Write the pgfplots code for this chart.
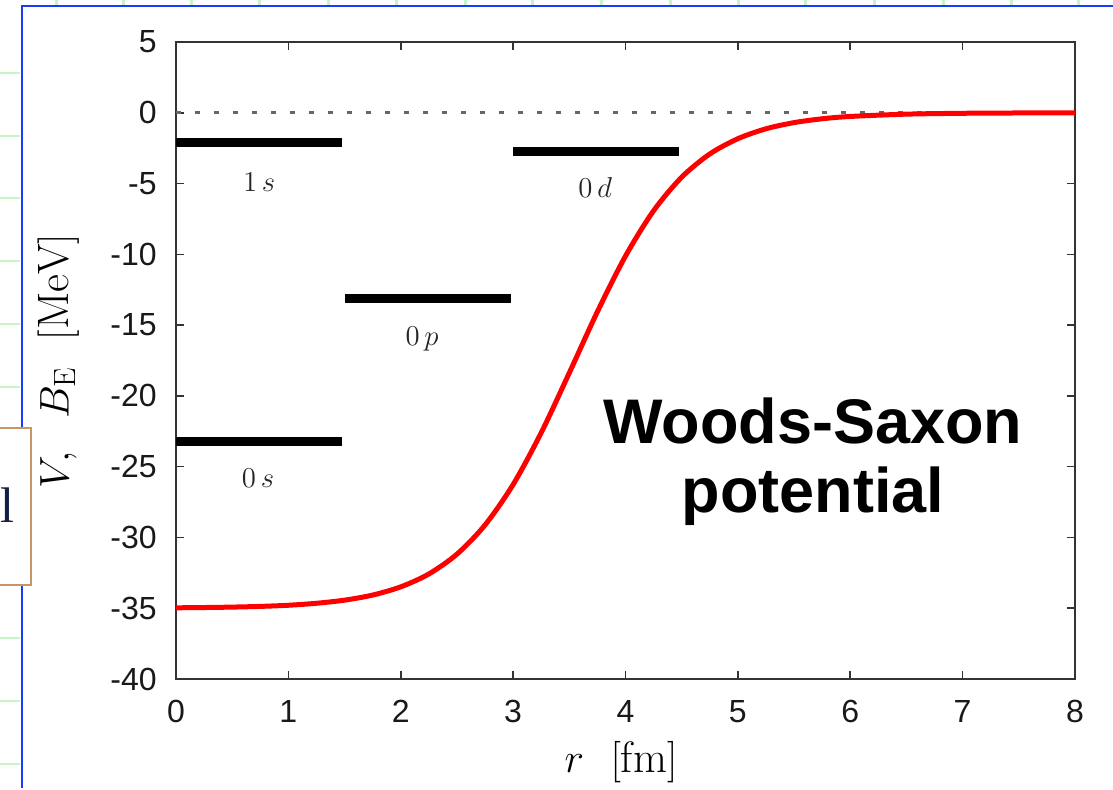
\documentclass[border=0pt]{standalone}
\usepackage{fontspec}
\usepackage{pgfplots}
\pgfplotsset{compat=1.18}
\newfontfamily\helv{Liberation Sans}
\newfontfamily\serifl{Liberation Serif}
\definecolor{slideblue}{RGB}{25,60,250}
\definecolor{lgreen}{RGB}{200,245,200}
\definecolor{boxtan}{RGB}{200,150,100}
\definecolor{navy}{RGB}{20,30,70}

\begin{document}
\begin{tikzpicture}
% slide frame around the plot (pixel-like units, origin top left)
\begin{scope}[xshift=-88pt, yshift=339.5pt, x=0.5pt, y=-0.5pt]
  \useasboundingbox (0,0) rectangle (1113,788);
  \fill[white] (0,0) rectangle (1113,788);
  \foreach \x in {57,124,191,259,328,396,465,532,601,670,738,805,874,943,1011,1078}
    \draw[lgreen, line width=1.5pt] (\x,0) -- (\x,5);
  \foreach \y in {73,136,198,261,324,387,638,701,764}
    \draw[lgreen, line width=1pt] (0,\y) -- (20,\y);
  \draw[slideblue, line width=1.25pt] (1113,6) -- (22,6) -- (22,428);
  \draw[slideblue, line width=1.25pt] (22,585) -- (22,788);
  \fill[white] (0,428) rectangle (31,585);
  \draw[boxtan, line width=0.8pt] (0,428) -- (31,428) -- (31,585) -- (0,585);
  \node[anchor=base west, inner sep=0pt, text=navy, font=\serifl\fontsize{25}{25}\selectfont] at (0,522) {l};
\end{scope}

\begin{axis}[
  width=449.5pt, height=318.5pt, scale only axis,
  xmin=0, xmax=8, ymin=-40, ymax=5,
  xtick={0,1,2,3,4,5,6,7,8},
  xticklabels={0,1,2,3,4,5,6,7,8},
  ytick={-40,-35,-30,-25,-20,-15,-10,-5,0,5},
  yticklabels={-40,-35,-30,-25,-20,-15,-10,-5,0,5},
  tick align=inside, major tick length=4pt,
  axis line style={black!80, line width=0.9pt},
  every tick/.style={black!80, line width=0.8pt},
  ticklabel style={font=\helv\fontsize{16}{16}\selectfont, text=black!90},
  yticklabel style={anchor=east, inner sep=0pt, xshift=-9.5pt},
  xticklabel style={anchor=north, inner sep=0pt, yshift=-10.5pt},
  xlabel={$r\ \ [\mathrm{fm}]$},
  ylabel={$V\!,\ \ B_{\mathrm{E}}\ \ [\mathrm{MeV}]$},
  label style={font=\fontsize{22}{22}\selectfont},
  xlabel style={at={(axis description cs:0.495,-0.130)}, anchor=center},
  ylabel style={at={(axis description cs:-0.131,0.499)}, anchor=center},
]
% zero energy reference
\addplot[black!60, line width=1.4pt, dash pattern=on 2.5pt off 7pt] coordinates {(0,0) (8,0)};

% bound-state levels
\addplot[black, line width=4.5pt] coordinates {(0,-2.1) (1.48,-2.1)};
\addplot[black, line width=4.5pt] coordinates {(1.5,-13.1) (2.98,-13.1)};
\addplot[black, line width=4.5pt] coordinates {(3.0,-2.7) (4.48,-2.7)};
\addplot[black, line width=4.5pt] coordinates {(0,-23.2) (1.48,-23.2)};

\node[text=black!85, font=\fontsize{15.5}{15.5}\selectfont] at (axis cs:0.74,-4.87) {$1\,s$};
\node[text=black!85, font=\fontsize{15.5}{15.5}\selectfont] at (axis cs:2.19,-16.0) {$0\,p$};
\node[text=black!85, font=\fontsize{15.5}{15.5}\selectfont] at (axis cs:3.73,-5.3) {$0\,d$};
\node[text=black!85, font=\fontsize{15.5}{15.5}\selectfont] at (axis cs:0.73,-25.8) {$0\,s$};

% Woods-Saxon well
\addplot[red, line width=2.5pt, smooth] coordinates {
  (0,-34.97) (0.25,-34.95) (0.5,-34.92) (0.75,-34.87) (1.0,-34.79)
  (1.25,-34.65) (1.5,-34.43) (1.75,-34.07) (2.0,-33.49) (2.25,-32.58)
  (2.5,-31.18) (2.75,-29.12) (3.0,-26.26) (3.25,-22.60) (3.5,-18.37)
  (3.75,-14.05) (4.0,-10.12) (4.25,-6.92) (4.5,-4.55) (4.75,-2.91)
  (5.0,-1.83) (5.25,-1.13) (5.5,-0.694) (5.75,-0.424) (6.0,-0.259)
  (6.5,-0.096) (7.0,-0.035) (7.5,-0.013) (8.0,-0.005)
};
\end{axis}

\begin{scope}[xshift=-88pt, yshift=339.5pt, x=0.5pt, y=-0.5pt]
  \node[anchor=base, inner sep=0pt, font=\helv\bfseries\fontsize{31.5}{31.5}\selectfont] at (813,443) {Woods-Saxon};
  \node[anchor=base, inner sep=0pt, font=\helv\bfseries\fontsize{31.5}{31.5}\selectfont] at (813,512) {potential};
\end{scope}
\end{tikzpicture}
\end{document}
